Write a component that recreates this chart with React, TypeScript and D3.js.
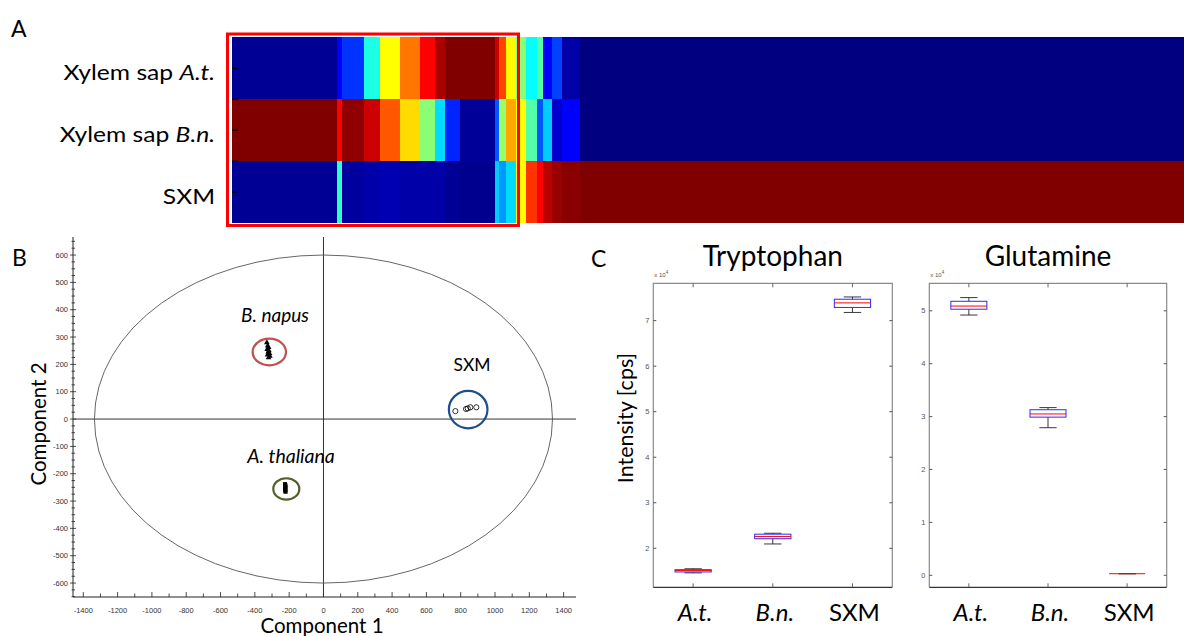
import React, { useEffect, useRef } from 'react'
import * as d3 from 'd3'

// ---- panel A: heatmap (jet colour scale, 0..1) ----
const heatRows = ['A.t.', 'B.n.', 'SXM']
const colSpan = [105, 5, 22, 16, 20, 20, 15, 10, 15, 35, 4, 7, 10, 10, 11, 6, 9, 10, 18, 604]
const xylemAt = [0.02, 0.125, 0.175, 0.4, 0.625, 0.758, 0.875, 0.958, 1, 1, 0.925, 0.808, 0.63, 0.51, 0.375, 0.458, 0.125, 0.19, 0.04, 0.0]
const xylemBn = [1, 0.875, 0.984, 0.925, 0.79, 0.66, 0.51, 0.34, 0.16, 0.025, 0.21, 0.525, 0.71, 0.625, 0.458, 0.21, 0.325, 0.075, 0.125, 0.0]
const sxmSignal = [0.02, 0.425, 0.03, 0.04, 0.05, 0.04, 0.04, 0.04, 0.02, 0.015, 0.325, 0.275, 0.34, 0.625, 0.825, 0.875, 0.942, 0.975, 0.99, 1]

// ---- panel B: PCA scores ----
const napusX = [-330, -325, -320, -328, -318, -322, -315, -326, -312, -320]
const napusY = [280, 268, 262, 255, 250, 245, 240, 235, 230, 225]
const thalianaX = [-224, -222, -223, -221, -224, -222, -223, -221]
const thalianaY = [-238, -242, -246, -250, -254, -258, -262, -266]
const sxmX = [769, 831, 841, 856, 891]
const sxmY = [29, 37, 39, 43, 43]
const ellipseAxes = [1335, 600]
const pcaXTicks = d3.range(-1400, 1401, 200)
const pcaYTicks = d3.range(-600, 601, 100)

// ---- panel C: boxplots, [min, q1, median, q3, max] x10^4 cps ----
const boxCats = ['A.t.', 'B.n.', 'SXM']
const trpAt = [1.46, 1.48, 1.51, 1.53, 1.55]
const trpBn = [2.095, 2.21, 2.26, 2.31, 2.33]
const trpSxm = [7.18, 7.29, 7.39, 7.47, 7.52]
const glnAt = [4.92, 5.03, 5.09, 5.18, 5.25]
const glnBn = [2.79, 2.99, 3.05, 3.13, 3.17]
const glnSxm = [0.03, 0.03, 0.03, 0.03, 0.03]
const trpTicks = [2, 3, 4, 5, 6, 7]
const glnTicks = [0, 1, 2, 3, 4, 5]

const FONT = 'Lato, "Open Sans", sans-serif'
const TICKFONT = '"Liberation Sans", Arial, sans-serif'

const jet = (t: number) => {
  const c = (v: number) => Math.round(255 * Math.max(0, Math.min(1, v)))
  return `rgb(${c(1.5 - Math.abs(4 * t - 3))},${c(1.5 - Math.abs(4 * t - 2))},${c(1.5 - Math.abs(4 * t - 1))})`
}

const label = (g: any, x: number, y: number, s: string, size: number, anchor = 'middle', sx = 1, italic = false) =>
  g.append('text')
    .attr('transform', `translate(${x},${y}) scale(${sx},1)`)
    .attr('text-anchor', anchor)
    .attr('font-family', FONT)
    .attr('font-size', size)
    .attr('font-style', italic ? 'italic' : 'normal')
    .attr('fill', '#000')
    .text(s)

function drawHeatmap(svg: any) {
  const g = svg.append('g')
  const starts = [0, ...d3.cumsum(colSpan)]
  const x = d3.scaleLinear().domain([0, d3.sum(colSpan)]).range([232, 1184])
  const y = d3.scaleBand().domain(heatRows).range([37.3, 223])
  const color = d3.scaleSequential(jet).domain([0, 1])
  const rows = [xylemAt, xylemBn, sxmSignal]

  rows.forEach((vals, i) => {
    g.selectAll(null).data(vals).enter().append('rect')
      .attr('x', (d: number, j: number) => x(starts[j]))
      .attr('width', (d: number, j: number) => x(starts[j + 1]) - x(starts[j]) + 0.4)
      .attr('y', y(heatRows[i]))
      .attr('height', y.bandwidth() + 0.4)
      .attr('fill', (d: number) => color(d))
      .attr('shape-rendering', 'crispEdges')
  })

  // axis ticks on the left edge
  const tickYs = heatRows.map(r => y(r)! + y.bandwidth() / 2).concat([y('B.n.')!, y('SXM')!])
  g.selectAll(null).data(tickYs).enter().append('line')
    .attr('x1', 232).attr('x2', 238)
    .attr('y1', (d: number) => d).attr('y2', (d: number) => d)
    .attr('stroke', '#000').attr('stroke-width', 1.2)

  const names = ['Xylem sap ', 'Xylem sap ', '']
  heatRows.forEach((r, i) => {
    const t = g.append('text')
      .attr('transform', `translate(215,${y(r)! + y.bandwidth() / 2 + 11.5}) scale(1.12,1)`)
      .attr('text-anchor', 'end')
      .attr('font-family', FONT)
      .attr('font-size', 22)
    if (names[i]) {
      t.append('tspan').text(names[i])
      t.append('tspan').attr('font-style', 'italic').text(r)
    } else {
      t.text(r)
    }
  })

  g.append('rect')
    .attr('x', 227.5).attr('y', 34).attr('width', 291).attr('height', 191.5)
    .attr('fill', 'none').attr('stroke', '#ff0000').attr('stroke-width', 3)

  label(svg, 11, 37, 'A', 23, 'start')
}

function drawPca(svg: any) {
  const g = svg.append('g')
  const x = d3.scaleLinear().domain([-1460, 1472]).range([73, 576])
  const y = d3.scaleLinear().domain([-651, 666]).range([597, 237])

  // ticks
  const yMinor = d3.range(-650, 651, 25)
  g.selectAll(null).data(yMinor).enter().append('line')
    .attr('x1', (d: number) => (d % 100 === 0 ? 70 : 71.5))
    .attr('x2', (d: number) => (d % 100 === 0 ? 76 : 75))
    .attr('y1', (d: number) => y(d)).attr('y2', (d: number) => y(d))
    .attr('stroke', '#222').attr('stroke-width', 0.8)
  g.selectAll(null).data(pcaYTicks).enter().append('text')
    .attr('x', 68).attr('y', (d: number) => y(d)).attr('dy', '0.35em')
    .attr('text-anchor', 'end').attr('font-family', TICKFONT).attr('font-size', 7.5).attr('fill', '#333')
    .text((d: number) => d)

  const xMinor = d3.range(-1400, 1401, 100)
  g.selectAll(null).data(xMinor).enter().append('line')
    .attr('x1', (d: number) => x(d)).attr('x2', (d: number) => x(d))
    .attr('y1', 597).attr('y2', (d: number) => (d % 200 === 0 ? 592 : 593.5))
    .attr('stroke', '#222').attr('stroke-width', 0.8)
  g.selectAll(null).data(pcaXTicks).enter().append('text')
    .attr('x', (d: number) => x(d)).attr('y', 610).attr('dy', '0.35em')
    .attr('text-anchor', 'middle').attr('font-family', TICKFONT).attr('font-size', 7.5).attr('fill', '#333')
    .text((d: number) => d)

  // axes and zero lines
  g.append('line').attr('x1', 73).attr('x2', 73).attr('y1', 237).attr('y2', 597).attr('stroke', '#222')
  g.append('line').attr('x1', 73).attr('x2', 576).attr('y1', 597).attr('y2', 597).attr('stroke', '#222')
  g.append('line').attr('x1', 73).attr('x2', 576).attr('y1', y(0)).attr('y2', y(0)).attr('stroke', '#333')
  g.append('line').attr('x1', x(0)).attr('x2', x(0)).attr('y1', 237).attr('y2', 597).attr('stroke', '#333')

  g.append('ellipse')
    .attr('cx', x(0)).attr('cy', y(0))
    .attr('rx', x(ellipseAxes[0]) - x(0)).attr('ry', y(0) - y(ellipseAxes[1]))
    .attr('fill', 'none').attr('stroke', '#555').attr('stroke-width', 0.9)

  const tri = d3.symbol().type(d3.symbolTriangle).size(14)
  g.selectAll(null).data(d3.zip(napusX, napusY)).enter().append('path')
    .attr('d', tri)
    .attr('transform', (d: number[]) => `translate(${x(d[0])},${y(d[1])})`)
    .attr('fill', '#000')
  g.selectAll(null).data(d3.zip(thalianaX, thalianaY)).enter().append('rect')
    .attr('x', (d: number[]) => x(d[0]) - 2).attr('y', (d: number[]) => y(d[1]) - 2)
    .attr('width', 4).attr('height', 4).attr('fill', '#000')
  g.selectAll(null).data(d3.zip(sxmX, sxmY)).enter().append('circle')
    .attr('cx', (d: number[]) => x(d[0])).attr('cy', (d: number[]) => y(d[1]))
    .attr('r', 2.6).attr('fill', 'none').attr('stroke', '#000').attr('stroke-width', 0.8)

  // group rings + names
  const groups = [
    { xs: napusX, ys: napusY, rx: 16.7, ry: 13.3, col: '#c0504d', name: 'B. napus', it: true, lx: 275, ly: 322, fs: 19 },
    { xs: thalianaX, ys: thalianaY, rx: 13, ry: 10.7, col: '#4f6228', name: 'A. thaliana', it: true, lx: 291, ly: 463, fs: 19.5 },
    { xs: sxmX, ys: sxmY, rx: 19.3, ry: 18.7, col: '#1f4e8c', name: 'SXM', it: false, lx: 472, ly: 371, fs: 17.5 },
  ]
  groups.forEach(gr => {
    g.append('ellipse')
      .attr('cx', x(d3.mean(gr.xs)!) + 1).attr('cy', y(d3.mean(gr.ys)!) + 1)
      .attr('rx', gr.rx).attr('ry', gr.ry)
      .attr('fill', 'none').attr('stroke', gr.col).attr('stroke-width', 2.2)
    label(g, gr.lx, gr.ly, gr.name, gr.fs, 'middle', 1, gr.it)
  })

  label(svg, 322, 633, 'Component 1', 20.5)
  svg.append('text')
    .attr('transform', 'translate(46,424) rotate(-90)')
    .attr('text-anchor', 'middle').attr('font-family', FONT).attr('font-size', 20.5)
    .text('Component 2')
  label(svg, 12, 266, 'B', 23, 'start')
}

function drawBoxes(svg: any, left: number, right: number, domain: number[], ticks: number[], stats: number[][], title: string) {
  const top = 283.3, bottom = 587.3
  const g = svg.append('g')
  const x = d3.scaleBand().domain(boxCats).range([left, right])
  const y = d3.scaleLinear().domain(domain).range([bottom, top])
  const bw = x.bandwidth() * 0.455
  const cw = bw * 0.48

  // frame
  g.append('path')
    .attr('d', `M${left},${bottom}V${top}H${right}V${bottom}`)
    .attr('fill', 'none').attr('stroke', '#8a8a8a').attr('stroke-width', 1.2)
  g.append('line').attr('x1', left).attr('x2', right).attr('y1', bottom).attr('y2', bottom)
    .attr('stroke', '#333').attr('stroke-width', 1.3)

  ticks.forEach(t => {
    g.append('line').attr('x1', left).attr('x2', left + 3).attr('y1', y(t)).attr('y2', y(t)).attr('stroke', '#555')
    g.append('line').attr('x1', right - 3).attr('x2', right).attr('y1', y(t)).attr('y2', y(t)).attr('stroke', '#555')
    g.append('text').attr('x', left - 4).attr('y', y(t)).attr('dy', '0.35em')
      .attr('text-anchor', 'end').attr('font-family', TICKFONT).attr('font-size', 7.5).attr('fill', '#555')
      .text(t)
  })
  boxCats.forEach(c => {
    const cx = x(c)! + x.bandwidth() / 2
    g.append('line').attr('x1', cx).attr('x2', cx).attr('y1', top).attr('y2', top + 4).attr('stroke', '#666')
    g.append('line').attr('x1', cx).attr('x2', cx).attr('y1', bottom).attr('y2', bottom - 4).attr('stroke', '#666')
  })

  const ex = g.append('text').attr('x', left + 1).attr('y', 277)
    .attr('font-family', TICKFONT).attr('font-size', 6).attr('fill', '#555')
  ex.append('tspan').text('x 10')
  ex.append('tspan').attr('dy', -3).attr('font-size', 4.5).text('4')

  const box = g.selectAll(null).data(stats).enter().append('g')
    .attr('transform', (d: number[], i: number) => `translate(${x(boxCats[i])! + x.bandwidth() / 2},0)`)
  box.append('line').attr('x1', 0).attr('x2', 0)
    .attr('y1', (d: number[]) => y(d[0])).attr('y2', (d: number[]) => y(d[4]))
    .attr('stroke', '#222').attr('stroke-width', 0.9)
  box.append('line').attr('x1', -cw / 2).attr('x2', cw / 2)
    .attr('y1', (d: number[]) => y(d[0])).attr('y2', (d: number[]) => y(d[0]))
    .attr('stroke', '#222').attr('stroke-width', 0.9)
  box.append('line').attr('x1', -cw / 2).attr('x2', cw / 2)
    .attr('y1', (d: number[]) => y(d[4])).attr('y2', (d: number[]) => y(d[4]))
    .attr('stroke', '#222').attr('stroke-width', 0.9)
  box.append('rect')
    .attr('x', -bw / 2).attr('width', bw)
    .attr('y', (d: number[]) => y(d[3])).attr('height', (d: number[]) => y(d[1]) - y(d[3]))
    .attr('fill', '#fff').attr('stroke', '#2a2aff').attr('stroke-width', 1)
  box.append('line').attr('x1', -bw / 2).attr('x2', bw / 2)
    .attr('y1', (d: number[]) => y(d[2])).attr('y2', (d: number[]) => y(d[2]))
    .attr('stroke', '#ff0000').attr('stroke-width', 1)

  label(svg, (left + right) / 2, 266, title, 28)
  boxCats.forEach((c, i) => {
    label(svg, x(c)! + x.bandwidth() / 2 + 2, 621, c, 24, 'middle', 1, i < 2)
  })
}

export default function App() {
  const ref = useRef<SVGSVGElement | null>(null)

  useEffect(() => {
    const svg = d3.select(ref.current)
    svg.selectAll('*').remove()
    drawHeatmap(svg)
    drawPca(svg)
    drawBoxes(svg, 653.3, 892.3, [1.143, 7.82], trpTicks, [trpAt, trpBn, trpSxm], 'Tryptophan')
    drawBoxes(svg, 929.3, 1166.7, [-0.227, 5.52], glnTicks, [glnAt, glnBn, glnSxm], 'Glutamine')
    svg.append('text')
      .attr('transform', 'translate(633,418) rotate(-90)')
      .attr('text-anchor', 'middle').attr('font-family', FONT).attr('font-size', 21.5)
      .text('Intensity [cps]')
    label(svg, 591, 267, 'C', 23, 'start')
  }, [])

  return (
    <svg ref={ref} width={1184} height={636}
      style={{ position: 'absolute', left: 0, top: 0, background: '#fff' }} />
  )
}
